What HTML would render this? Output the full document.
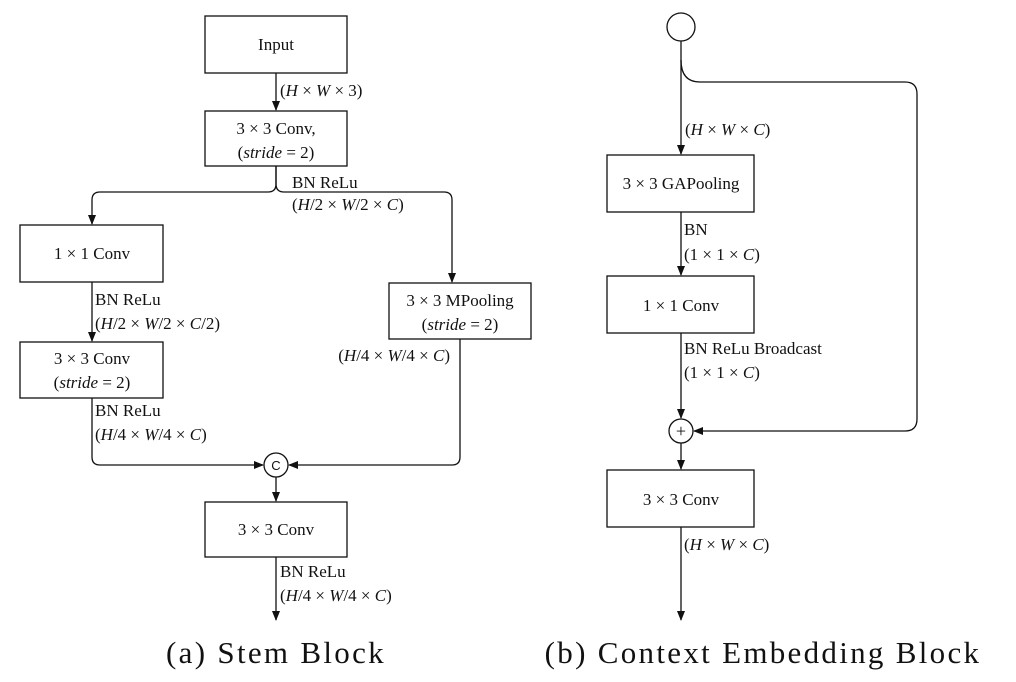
<!DOCTYPE html>
<html><head><meta charset="utf-8"><style>
html,body{margin:0;padding:0;background:#fff}
svg{display:block;font-family:"Liberation Serif",serif}
text{font-size:17px;fill:#111}
.i{font-style:italic}
.cap{font-size:31px;letter-spacing:2.3px}
</style></head><body>
<svg width="1016" height="682" viewBox="0 0 1016 682" xmlns="http://www.w3.org/2000/svg">
<defs><marker id="ar" markerWidth="10" markerHeight="8" refX="9" refY="4" orient="auto" markerUnits="userSpaceOnUse"><path d="M0,0 L10,4 L0,8 Z" fill="#111"/></marker></defs>
<g fill="none" stroke="#111" stroke-width="1.3">
<rect x="205" y="16" width="142" height="57"/>
<line x1="276" y1="73" x2="276" y2="110" marker-end="url(#ar)"/>
<rect x="205" y="111" width="142" height="55"/>
<path d="M276,166 V184 Q276,192 268,192 H100 Q92,192 92,200 V224" marker-end="url(#ar)"/>
<path d="M276,166 V184 Q276,192 284,192 H444 Q452,192 452,200 V282" marker-end="url(#ar)"/>
<rect x="20" y="225" width="143" height="57"/>
<line x1="92" y1="282" x2="92" y2="341" marker-end="url(#ar)"/>
<rect x="20" y="342" width="143" height="56"/>
<path d="M92,398 V457 Q92,465 100,465 H263" marker-end="url(#ar)"/>
<rect x="389" y="283" width="142" height="56"/>
<path d="M460,339 V457 Q460,465 452,465 H289" marker-end="url(#ar)"/>
<circle cx="276" cy="465" r="12"/>
<line x1="276" y1="477" x2="276" y2="501" marker-end="url(#ar)"/>
<rect x="205" y="502" width="142" height="55"/>
<line x1="276" y1="557" x2="276" y2="620" marker-end="url(#ar)"/>
<circle cx="681" cy="27" r="14"/>
<line x1="681" y1="41" x2="681" y2="154" marker-end="url(#ar)"/>
<path d="M681,60 Q681,82 700,82 H905 Q917,82 917,94 V419 Q917,431 905,431 H694" marker-end="url(#ar)"/>
<rect x="607" y="155" width="147" height="57"/>
<line x1="681" y1="212" x2="681" y2="275" marker-end="url(#ar)"/>
<rect x="607" y="276" width="147" height="57"/>
<line x1="681" y1="333" x2="681" y2="418" marker-end="url(#ar)"/>
<circle cx="681" cy="431" r="12"/>
<line x1="681" y1="443" x2="681" y2="469" marker-end="url(#ar)"/>
<rect x="607" y="470" width="147" height="57"/>
<line x1="681" y1="527" x2="681" y2="620" marker-end="url(#ar)"/>
</g>
<g>
<text x="276" y="50" text-anchor="middle">Input</text>
<text x="280" y="96">(<tspan class="i">H</tspan> × <tspan class="i">W</tspan> × 3)</text>
<text x="276" y="134" text-anchor="middle">3 × 3 Conv,</text>
<text x="276" y="158" text-anchor="middle">(<tspan class="i">stride</tspan> = 2)</text>
<text x="292" y="188">BN  ReLu</text>
<text x="292" y="210">(<tspan class="i">H</tspan>/2 × <tspan class="i">W</tspan>/2 × <tspan class="i">C</tspan>)</text>
<text x="92" y="259" text-anchor="middle">1 × 1 Conv</text>
<text x="95" y="305">BN  ReLu</text>
<text x="95" y="329">(<tspan class="i">H</tspan>/2 × <tspan class="i">W</tspan>/2 × <tspan class="i">C</tspan>/2)</text>
<text x="92" y="364" text-anchor="middle">3 × 3 Conv</text>
<text x="92" y="388" text-anchor="middle">(<tspan class="i">stride</tspan> = 2)</text>
<text x="95" y="416">BN  ReLu</text>
<text x="95" y="440">(<tspan class="i">H</tspan>/4 × <tspan class="i">W</tspan>/4 × <tspan class="i">C</tspan>)</text>
<text x="460" y="306" text-anchor="middle">3 × 3 MPooling</text>
<text x="460" y="330" text-anchor="middle">(<tspan class="i">stride</tspan> = 2)</text>
<text x="450" y="361" text-anchor="end">(<tspan class="i">H</tspan>/4 × <tspan class="i">W</tspan>/4 × <tspan class="i">C</tspan>)</text>
<text x="276" y="470" text-anchor="middle" style="font-family:'Liberation Sans',sans-serif;font-size:13px">C</text>
<text x="276" y="535" text-anchor="middle">3 × 3 Conv</text>
<text x="280" y="577">BN  ReLu</text>
<text x="280" y="601">(<tspan class="i">H</tspan>/4 × <tspan class="i">W</tspan>/4 × <tspan class="i">C</tspan>)</text>
<text x="276" y="663" text-anchor="middle" class="cap">(a) Stem Block</text>
<text x="685" y="135">(<tspan class="i">H</tspan> × <tspan class="i">W</tspan> × <tspan class="i">C</tspan>)</text>
<text x="681" y="189" text-anchor="middle">3 × 3 GAPooling</text>
<text x="684" y="235">BN</text>
<text x="684" y="260">(1 × 1 × <tspan class="i">C</tspan>)</text>
<text x="681" y="311" text-anchor="middle">1 × 1 Conv</text>
<text x="684" y="354">BN  ReLu Broadcast</text>
<text x="684" y="378">(1 × 1 × <tspan class="i">C</tspan>)</text>
<text x="681" y="437" text-anchor="middle" style="font-size:18px">+</text>
<text x="681" y="505" text-anchor="middle">3 × 3 Conv</text>
<text x="684" y="550">(<tspan class="i">H</tspan> × <tspan class="i">W</tspan> × <tspan class="i">C</tspan>)</text>
<text x="763" y="663" text-anchor="middle" class="cap">(b) Context Embedding Block</text>
</g>
</svg>
</body></html>
